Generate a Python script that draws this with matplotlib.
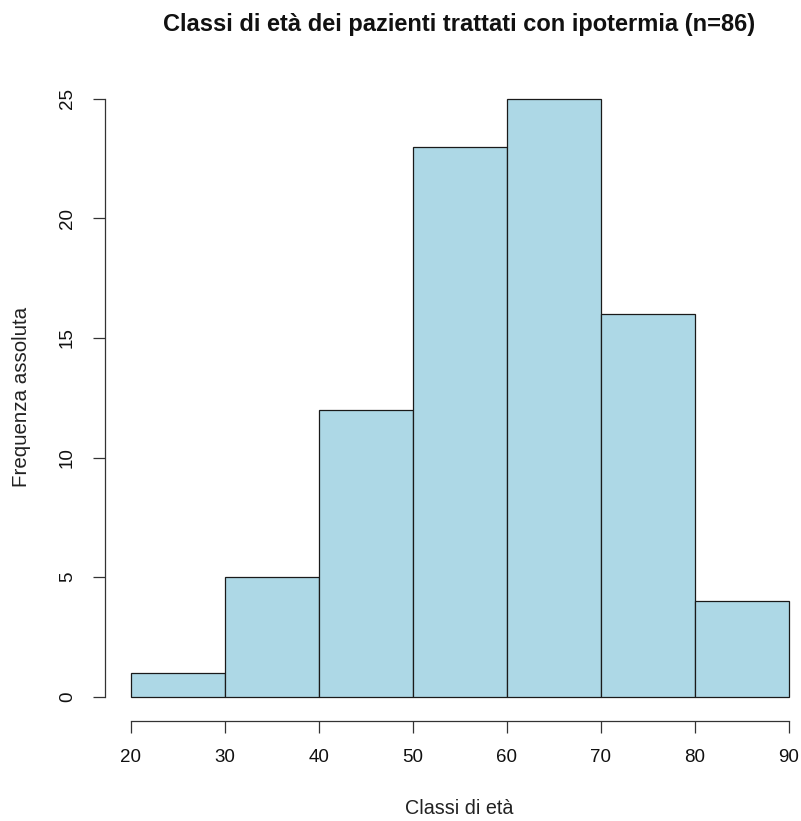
import matplotlib
matplotlib.use('Agg')
import matplotlib.pyplot as plt
import numpy as np

# Age classes (bin edges) and absolute frequencies
bin_edges = [20, 30, 40, 50, 60, 70, 80, 90]
counts = [1, 5, 12, 23, 25, 16, 4]
y_ticks = [0, 5, 10, 15, 20, 25]

plt.rcParams['font.family'] = ['Liberation Sans', 'DejaVu Sans']

W, H = 801, 821
fig = plt.figure(figsize=(W / 100, H / 100), dpi=100)

# plot region in pixels (R style, 4% padding beyond data)
left, right, top, bottom = 104.5, 815.0, 75.0, 720.5
ax = fig.add_axes([left / W, 1 - bottom / H, (right - left) / W, (bottom - top) / H])

lefts = np.array(bin_edges[:-1])
widths = np.diff(bin_edges)
ax.bar(lefts, counts, width=widths, align='edge', color='#ADD8E6',
       edgecolor='#1a1a1a', linewidth=0.9)

xr = bin_edges[-1] - bin_edges[0]
ax.set_xlim(bin_edges[0] - 0.04 * xr, bin_edges[-1] + 0.04 * xr)
ax.set_ylim(-0.04 * 25, 25 * 1.04)

for s in ['top', 'right']:
    ax.spines[s].set_visible(False)
for s in ['left', 'bottom']:
    ax.spines[s].set_color('#333333')
    ax.spines[s].set_linewidth(0.9)
ax.spines['bottom'].set_bounds(bin_edges[0], bin_edges[-1])
ax.spines['left'].set_bounds(0, 25)

ax.set_xticks(bin_edges)
ax.set_yticks(y_ticks)
ax.set_yticklabels([str(v) for v in y_ticks], rotation=90, va='center')
ax.tick_params(axis='both', direction='out', length=8.6, width=0.9,
               color='#333333', labelsize=13.5, labelcolor='#111111')
ax.tick_params(axis='x', pad=12)
ax.tick_params(axis='y', pad=12)

fig.text(459 / W, 1 - 25 / H, 'Classi di età dei pazienti trattati con ipotermia (n=86)',
         ha='center', va='center', fontsize=17, fontweight='bold', color='#111111')
fig.text(459 / W, 1 - 808 / H, 'Classi di età', ha='center', va='center',
         fontsize=14.2, color='#222222')
fig.text(22 / W, 1 - 397 / H, 'Frequenza assoluta', ha='center', va='center',
         rotation=90, fontsize=14.8, color='#222222')

fig.savefig('out.png', dpi=100)
